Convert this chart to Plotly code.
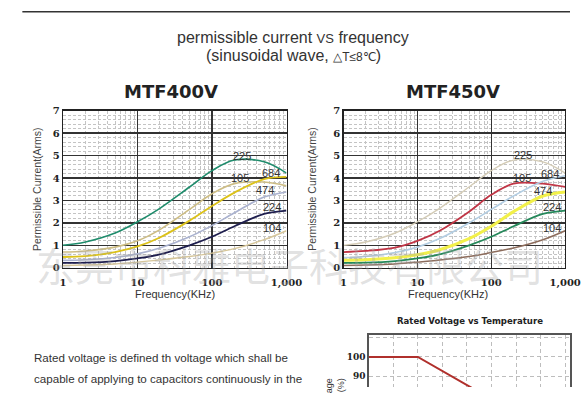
import plotly.graph_objects as go

W, H = 586, 393

freq = [1, 2, 5, 10, 20, 50, 100, 200, 500, 1000]
labels = ["225", "105", "684", "474", "224", "104"]

mtf400 = {
    "225": [1.0, 1.15, 1.55, 2.05, 2.65, 3.6, 4.33, 4.8, 4.72, 4.22],
    "105": [0.7, 0.75, 0.92, 1.2, 1.7, 2.6, 3.3, 3.75, 3.82, 3.65],
    "684": [0.48, 0.52, 0.7, 0.95, 1.35, 2.1, 2.75, 3.35, 3.95, 4.05],
    "474": [0.33, 0.36, 0.46, 0.62, 0.88, 1.38, 1.88, 2.45, 3.15, 3.38],
    "224": [0.22, 0.23, 0.3, 0.42, 0.6, 1.0, 1.38, 1.85, 2.4, 2.55],
    "104": [0.1, 0.12, 0.17, 0.25, 0.35, 0.5, 0.65, 0.85, 1.25, 1.65],
}
mtf450 = {
    "225": [1.0, 1.15, 1.55, 2.05, 2.65, 3.6, 4.33, 4.8, 4.72, 4.22],
    "105": [0.7, 0.75, 0.9, 1.2, 1.65, 2.5, 3.25, 3.75, 3.75, 3.6],
    "684": [0.45, 0.5, 0.68, 0.92, 1.3, 2.0, 2.6, 3.2, 3.85, 4.1],
    "474": [0.33, 0.36, 0.45, 0.58, 0.8, 1.3, 1.85, 2.5, 3.2, 3.38],
    "224": [0.22, 0.23, 0.3, 0.42, 0.6, 1.0, 1.38, 1.85, 2.4, 2.55],
    "104": [0.1, 0.12, 0.17, 0.25, 0.35, 0.5, 0.68, 0.88, 1.25, 1.65],
}
colors400 = {"225": "#1f8c6c", "105": "#cdbd85", "684": "#dcc21a",
             "474": "#aab2cf", "224": "#1e1e4e", "104": "#d6c69a"}
colors450 = {"225": "#d4ccb6", "105": "#c03646", "684": "#b2cde2",
             "474": "#f2f04a", "224": "#25885a", "104": "#8c6c5c"}
widths400 = {"225": 1.6, "105": 1.6, "684": 1.8, "474": 1.6, "224": 1.8, "104": 1.4}
widths450 = {"225": 1.4, "105": 1.8, "684": 1.6, "474": 3.0, "224": 1.8, "104": 1.5}

# label positions (log10 f, current)
lab400 = {"225": (2.40, 5.0), "105": (2.38, 4.0), "684": (2.79, 4.22),
          "474": (2.71, 3.46), "224": (2.81, 2.72), "104": (2.81, 1.77)}
lab450 = {"225": (2.43, 5.01), "105": (2.42, 3.99), "684": (2.79, 4.2),
          "474": (2.70, 3.43), "224": (2.82, 2.71), "104": (2.82, 1.77)}

x_ticks = [1, 10, 100, 1000]
x_ticktext = ["1", "10", "100", "1,000"]
y_ticks = [0, 1, 2, 3, 4, 5, 6, 7]

temp = [65, 85, 125]
volt = [100, 100, 71]

fig = go.Figure()

for lab in labels:
    fig.add_trace(go.Scatter(x=freq, y=mtf400[lab], mode="lines", xaxis="x", yaxis="y",
                             line=dict(color=colors400[lab], width=widths400[lab], shape="spline"),
                             showlegend=False, hoverinfo="skip"))
for lab in labels:
    fig.add_trace(go.Scatter(x=freq, y=mtf450[lab], mode="lines", xaxis="x2", yaxis="y2",
                             line=dict(color=colors450[lab], width=widths450[lab], shape="spline"),
                             showlegend=False, hoverinfo="skip"))
fig.add_trace(go.Scatter(x=temp, y=volt, mode="lines", xaxis="x3", yaxis="y3",
                         line=dict(color="#b0302c", width=2), showlegend=False, hoverinfo="skip"))

tickfont = dict(family="DejaVu Serif", size=10, color="#222", weight="bold")
minor_x = dict(dtick="D1", showgrid=True, gridcolor="#c4c4c4", griddash="3px,2px", gridwidth=1, ticklen=0)
minor_y = dict(dtick=0.2, showgrid=True, gridcolor="#c4c4c4", griddash="3px,2px", gridwidth=1, ticklen=0)

def xax(domain, anchor):
    return dict(type="log", range=[0, 3], domain=domain, anchor=anchor,
                tickvals=x_ticks, ticktext=x_ticktext, tickfont=tickfont,
                ticklabelstandoff=5,
                showgrid=True, gridcolor="#333", gridwidth=1.3, minor=minor_x,
                showline=True, linecolor="#222", linewidth=1.3, mirror=True,
                ticks="", zeroline=False, fixedrange=True)

def yax(domain, anchor):
    return dict(range=[0, 7], domain=domain, anchor=anchor,
                tickvals=y_ticks, tickfont=tickfont,
                showgrid=True, gridcolor="#333", gridwidth=1.3, minor=minor_y,
                showline=True, linecolor="#222", linewidth=1.3, mirror=True,
                ticks="", zeroline=False, fixedrange=True)

ydom = [1 - 270 / H, 1 - 108 / H]
fig.update_layout(
    width=W, height=H, margin=dict(l=0, r=0, t=0, b=0),
    paper_bgcolor="white", plot_bgcolor="white",
    xaxis=xax([62 / W, 293 / W], "y"),
    yaxis=yax(ydom, "x"),
    xaxis2=xax([352 / W, 581 / W], "y2"),
    yaxis2=yax(ydom, "x2"),
    xaxis3=dict(range=[65, 147], domain=[378 / W, 1.0], anchor="y3", side="top",
                tick0=75, dtick=10, showticklabels=False, ticks="",
                showgrid=True, gridcolor="#bdbdbd", griddash="4px,3px", gridwidth=1,
                showline=True, linecolor="#555", linewidth=1.5, zeroline=False),
    yaxis3=dict(range=[84.5, 111.5], domain=[0, 1 - 339 / H], anchor="x3",
                tickvals=[90, 100, 110], ticktext=["90", "100", ""],
                tickfont=dict(family="DejaVu Serif", size=9, color="#222", weight="bold"),
                showgrid=True, gridcolor="#bdbdbd", griddash="4px,3px", gridwidth=1,
                showline=True, linecolor="#555", linewidth=1.5, mirror=True,
                ticks="", zeroline=False),
)

ann = []
def A(x, y, text, size, color="#222", family="Liberation Sans", xref="paper", yref="paper", **kw):
    d = dict(x=x, y=y, xref=xref, yref=yref, text=text, showarrow=False,
             xanchor="center", yanchor="middle",
             font=dict(size=size, color=color, family=family))
    d.update(kw)
    ann.append(d)

def px(x):
    return x / W

def py(y):
    return 1 - y / H

A(px(300), py(32), "permissible current <span style='font-size:13px'>VS</span> frequency", 16,
  color="#333", family="Liberation Sans Narrow, Liberation Sans")
A(px(300), py(51), "(sinusoidal wave, <span style='font-size:12px'>△T≤8℃</span>)", 16,
  color="#333", family="Liberation Sans Narrow, Liberation Sans")
A(px(174), py(88), "<b>MTF400V</b>", 18, color="#222", family="DejaVu Sans")
A(px(465), py(88), "<b>MTF450V</b>", 18, color="#222", family="DejaVu Sans")
A(px(35), py(189), "Permissible Current(Arms)", 10.5, color="#444", textangle=-90)
A(px(320), py(189), "Permissible Current(Arms)", 10.5, color="#444", textangle=-90)
A(px(178), py(297), "Frequency(KHz)", 11, color="#333")
A(px(460), py(297), "Frequency(KHz)", 11, color="#333")
A(px(483), py(324), "<b>Rated Voltage vs Temperature</b>", 9.5, color="#222",
  family="DejaVu Sans Condensed, Liberation Sans Narrow")
A(px(343), py(381), "Rated Voltage<br>(%)", 9, color="#333", textangle=-90,
  yanchor="top", align="right")
A(px(30), py(363), "Rated voltage is defined th voltage which shall be", 11.6, color="#333",
  xanchor="left")
A(px(30), py(384), "capable of applying to capacitors continuously in the", 11.6, color="#333",
  xanchor="left")

for lab in labels:
    lx, ly = lab400[lab]
    A(lx, ly, lab, 11, color="#333", xref="x", yref="y")
    lx, ly = lab450[lab]
    A(lx, ly, lab, 11, color="#333", xref="x2", yref="y2")

A(px(296), py(266), "东莞市科雅电子科技有限公司", 39, color="rgba(165,165,165,0.33)",
  family="Noto Sans CJK SC")

fig.update_layout(annotations=ann)
fig.add_shape(type="line", xref="paper", yref="paper", x0=px(20), x1=1.0, y0=py(6), y1=py(6),
              line=dict(color="#333", width=1.5))

fig.write_html(
    "out.html",
    config={"displayModeBar": False, "staticPlot": True},
    post_script=("document.body.style.margin='0px';"
                 "document.body.style.overflow='hidden';"
                 "document.documentElement.style.overflow='hidden';"),
)
